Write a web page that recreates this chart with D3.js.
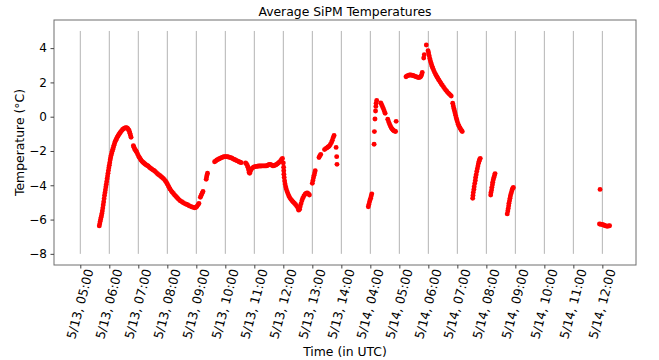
<!DOCTYPE html>
<html>
<head>
<meta charset="utf-8">
<script src="https://cdn.jsdelivr.net/npm/d3@7"></script>
<style>
  body { margin: 0; background: white; }
  svg text { font-family: "DejaVu Sans", sans-serif; fill: #000; }
</style>
</head>
<body>
<svg id="chart" width="659" height="360"></svg>
<script>

// *** Data ***

// hour slots on the (compressed) time axis, one tick each
var tickLabels = ["5/13, 05:00", "5/13, 06:00", "5/13, 07:00", "5/13, 08:00", "5/13, 09:00",
    "5/13, 10:00", "5/13, 11:00", "5/13, 12:00", "5/13, 13:00", "5/13, 14:00",
    "5/14, 04:00", "5/14, 05:00", "5/14, 06:00", "5/14, 07:00", "5/14, 08:00",
    "5/14, 09:00", "5/14, 10:00", "5/14, 11:00", "5/14, 12:00"];

var yTicks = [-8, -6, -4, -2, 0, 2, 4];

// [slot position, average SiPM temperature in °C]
var readings13 = [
    [0.655,-6.37],[0.67,-6.25],[0.685,-6.12],[0.70,-6.0],[0.715,-5.88],[0.73,-5.78],[0.745,-5.65],[0.76,-5.5],
    [0.775,-5.33],[0.79,-5.15],[0.805,-4.97],[0.82,-4.78],[0.835,-4.6],[0.85,-4.43],[0.865,-4.27],[0.88,-4.1],
    [0.895,-3.95],[0.91,-3.79],[0.925,-3.62],[0.94,-3.46],[0.955,-3.3],[0.97,-3.14],[0.985,-2.98],[1.0,-2.83],
    [1.015,-2.68],[1.03,-2.53],[1.045,-2.39],[1.06,-2.27],[1.08,-2.14],[1.10,-2.02],[1.12,-1.9],[1.14,-1.79],
    [1.16,-1.67],[1.18,-1.56],[1.2,-1.46],[1.225,-1.37],[1.25,-1.28],[1.275,-1.2],[1.30,-1.12],[1.325,-1.05],
    [1.35,-0.99],[1.375,-0.93],[1.40,-0.87],[1.43,-0.81],[1.46,-0.75],[1.49,-0.71],[1.52,-0.67],[1.55,-0.65],
    [1.58,-0.64],[1.61,-0.66],[1.64,-0.7],[1.67,-0.78],[1.69,-0.85],[1.71,-0.96],[1.73,-1.08],[1.75,-1.2],
    [1.83,-1.69],[1.85,-1.78],[1.87,-1.87],[1.9,-1.95],[1.92,-2.0],[1.94,-2.06],[1.97,-2.16],[2.0,-2.27],
    [2.03,-2.36],[2.06,-2.44],[2.09,-2.52],[2.12,-2.59],[2.15,-2.64],[2.18,-2.68],[2.21,-2.73],[2.24,-2.77],
    [2.27,-2.81],[2.30,-2.84],[2.34,-2.88],[2.38,-2.95],[2.42,-3.0],[2.46,-3.05],[2.5,-3.1],[2.54,-3.14],
    [2.58,-3.19],[2.62,-3.26],[2.66,-3.33],[2.70,-3.38],[2.74,-3.43],[2.78,-3.49],[2.82,-3.54],[2.86,-3.6],
    [2.90,-3.67],[2.94,-3.76],[2.97,-3.84],[3.0,-3.92],[3.03,-4.02],[3.06,-4.12],[3.09,-4.22],[3.13,-4.31],
    [3.17,-4.4],[3.21,-4.48],[3.25,-4.56],[3.29,-4.64],[3.33,-4.71],[3.37,-4.78],[3.41,-4.85],[3.45,-4.91],
    [3.5,-4.96],[3.55,-5.02],[3.6,-5.07],[3.65,-5.11],[3.7,-5.14],[3.75,-5.19],[3.8,-5.23],[3.85,-5.26],
    [3.9,-5.29],[3.94,-5.31],[3.98,-5.3],[4.02,-5.24],[4.06,-5.14],[4.09,-5.06],
    [4.14,-4.7],[4.17,-4.58],[4.2,-4.46],[4.23,-4.36],
    [4.34,-3.65],[4.355,-3.52],[4.37,-3.4],[4.385,-3.3],
    [4.63,-2.63],[4.67,-2.58],[4.71,-2.53],[4.75,-2.49],[4.79,-2.45],[4.83,-2.42],[4.87,-2.39],[4.91,-2.36],
    [4.95,-2.34],[4.99,-2.33],[5.03,-2.33],[5.07,-2.34],[5.11,-2.35],[5.15,-2.37],[5.19,-2.39],[5.23,-2.42],
    [5.27,-2.46],[5.31,-2.5],[5.35,-2.53],[5.39,-2.56],[5.43,-2.59],[5.47,-2.63],[5.51,-2.66],[5.55,-2.68],
    [5.7,-2.7],[5.73,-2.76],[5.76,-2.84],[5.78,-2.95],[5.8,-3.1],[5.82,-3.25],[5.84,-3.3],[5.86,-3.2],
    [5.88,-3.1],[5.91,-3.03],[5.95,-2.97],[5.99,-2.93],[6.03,-2.91],[6.07,-2.9],[6.11,-2.89],[6.15,-2.88],
    [6.19,-2.88],[6.23,-2.88],[6.27,-2.87],[6.31,-2.87],[6.35,-2.87],[6.39,-2.87],[6.43,-2.86],[6.47,-2.83],
    [6.51,-2.79],[6.55,-2.78],[6.59,-2.82],[6.63,-2.86],[6.67,-2.86],[6.71,-2.83],[6.75,-2.8],[6.79,-2.76],
    [6.83,-2.7],[6.87,-2.64],[6.91,-2.57],[6.94,-2.5],[6.97,-2.44],
    [7.0,-2.7],[7.01,-2.95],[7.015,-3.15],[7.02,-3.35],[7.03,-3.55],[7.045,-3.75],[7.06,-3.92],[7.08,-4.08],
    [7.1,-4.22],[7.13,-4.36],[7.16,-4.5],[7.19,-4.62],[7.22,-4.72],[7.26,-4.82],[7.3,-4.9],[7.34,-4.97],
    [7.38,-5.05],[7.42,-5.12],[7.46,-5.21],[7.5,-5.32],[7.53,-5.45],[7.56,-5.4],[7.58,-5.25],[7.61,-5.08],
    [7.64,-4.9],[7.67,-4.75],[7.71,-4.62],[7.75,-4.52],[7.79,-4.46],[7.83,-4.45],[7.87,-4.5],[7.9,-4.57],
    [8.0,-3.88],[8.02,-3.72],[8.04,-3.56],[8.06,-3.42],[8.08,-3.28],[8.1,-3.15],
    [8.23,-2.38],[8.26,-2.28],[8.29,-2.2],
    [8.42,-1.92],[8.46,-1.86],[8.5,-1.82],[8.54,-1.77],[8.58,-1.72],[8.62,-1.62],[8.66,-1.5],[8.69,-1.37],
    [8.72,-1.22],[8.75,-1.1],
    [8.82,-1.79],[8.84,-2.33],[8.85,-2.78]
];

var readings14 = [
    [9.93,-5.25],[9.95,-5.12],[9.97,-4.98],[9.99,-4.86],[10.01,-4.75],[10.03,-4.62],[10.05,-4.5],
    [10.13,-1.61],[10.14,-0.87],[10.16,-0.13],[10.18,0.33],[10.19,0.6],[10.2,0.78],[10.22,0.95],
    [10.36,0.8],[10.39,0.7],[10.42,0.58],[10.45,0.46],[10.48,0.33],[10.51,0.2],
    [10.6,-0.15],[10.63,-0.3],[10.66,-0.43],[10.69,-0.54],[10.72,-0.64],[10.75,-0.72],[10.78,-0.78],
    [10.81,-0.82],[10.84,-0.84],[10.87,-0.86],[10.89,-0.27],
    [11.23,2.33],[11.27,2.38],[11.31,2.41],[11.35,2.43],[11.39,2.43],[11.43,2.42],[11.47,2.4],[11.51,2.38],
    [11.55,2.35],[11.59,2.32],[11.63,2.3],[11.67,2.29],[11.71,2.3],[11.74,2.35],[11.77,2.45],[11.79,2.58],
    [11.84,3.42],[11.86,3.62],[11.93,4.18],
    [11.99,3.85],[12.01,3.72],[12.03,3.55],[12.05,3.4],[12.07,3.27],[12.09,3.14],[12.11,3.03],[12.13,2.93],
    [12.15,2.84],[12.18,2.72],[12.21,2.6],[12.24,2.5],[12.27,2.41],[12.3,2.32],[12.33,2.23],[12.36,2.14],
    [12.4,2.04],[12.44,1.94],[12.48,1.84],[12.52,1.74],[12.56,1.64],[12.6,1.55],[12.64,1.47],[12.68,1.39],
    [12.72,1.32],[12.76,1.26],[12.79,1.2],
    [12.84,0.78],[12.86,0.62],[12.88,0.48],[12.9,0.35],[12.92,0.22],[12.94,0.08],[12.96,-0.06],[12.98,-0.18],
    [13.0,-0.3],[13.03,-0.44],[13.06,-0.56],[13.09,-0.66],[13.12,-0.75],[13.15,-0.82],[13.17,-0.87],
    [13.53,-4.76],[13.54,-4.6],[13.55,-4.42],[13.57,-4.25],[13.58,-4.08],[13.6,-3.9],[13.62,-3.72],[13.63,-3.55],
    [13.65,-3.38],[13.67,-3.2],[13.69,-3.03],[13.71,-2.87],[13.73,-2.72],[13.75,-2.6],[13.77,-2.5],[13.79,-2.43],
    [14.15,-4.57],[14.16,-4.42],[14.18,-4.27],[14.19,-4.12],[14.21,-3.97],[14.22,-3.82],[14.24,-3.68],
    [14.26,-3.55],[14.28,-3.43],[14.3,-3.32],
    [14.72,-5.67],[14.74,-5.5],[14.755,-5.35],[14.77,-5.2],[14.78,-5.05],[14.8,-4.9],[14.815,-4.76],
    [14.83,-4.62],[14.85,-4.5],[14.87,-4.38],[14.89,-4.26],[14.91,-4.18],[14.93,-4.13],
    [17.92,-4.24],
    [17.9,-6.26],[17.94,-6.27],[17.98,-6.28],[18.02,-6.3],[18.06,-6.33],[18.1,-6.36],[18.14,-6.38],
    [18.18,-6.39],[18.22,-6.37],[18.25,-6.36]
];

// vertical hour lines span this range
var hourLineRange = [-8, 5];

// *** Chart ***

var chart = d3.select("#chart");

var margin = {top: 20, right: 23, bottom: 95, left: 54},
    width = 659 - margin.left - margin.right,
    height = 360 - margin.top - margin.bottom;

var x = d3.scaleLinear().domain([-0.907, 19.16]).range([0, width]);
var y = d3.scaleLinear().domain([-8.65, 5.64]).range([height, 0]);

var g = chart.append("g")
    .attr("transform", "translate(" + margin.left + "," + margin.top + ")");

// hour lines
g.selectAll(".hour-line")
    .data(tickLabels).enter().append("line")
    .attr("class", "hour-line")
    .attr("x1", (d, i) => x(i)).attr("x2", (d, i) => x(i))
    .attr("y1", y(hourLineRange[0])).attr("y2", y(hourLineRange[1]))
    .attr("stroke", "#b4b4b4")
    .attr("stroke-width", 1);

// readings
g.selectAll(".dot")
    .data(readings13.concat(readings14)).enter().append("circle")
    .attr("class", "dot")
    .attr("cx", d => x(d[0]))
    .attr("cy", d => y(d[1]))
    .attr("r", 2.45)
    .attr("fill", "#ff0000");

// frame
g.append("rect")
    .attr("width", width).attr("height", height)
    .attr("fill", "none")
    .attr("stroke", "#6e6e6e")
    .attr("stroke-width", 1);

// y axis
var yAxis = d3.axisLeft(y)
    .tickValues(yTicks)
    .tickSize(3.5)
    .tickPadding(3.5)
    .tickFormat(d => d3.format("")(d).replace("-", "\u2212"));

var yAxisG = g.append("g").call(yAxis);
yAxisG.select(".domain").remove();
yAxisG.selectAll("line").attr("stroke", "#444");
yAxisG.selectAll("text")
    .attr("font-size", "12px")
    .style("font-family", "DejaVu Sans");

// x axis (rotated labels, centred on their tick like matplotlib)
var xAxis = d3.axisBottom(x)
    .tickValues(d3.range(tickLabels.length))
    .tickSize(3.5)
    .tickFormat(i => tickLabels[i]);

var xAxisG = g.append("g")
    .attr("transform", "translate(0," + height + ")")
    .call(xAxis);
xAxisG.select(".domain").remove();
xAxisG.selectAll("line").attr("stroke", "#444");

var xFont = 12.5, rot = 75 * Math.PI / 180;
xAxisG.selectAll("text")
    .attr("font-size", xFont + "px")
    .style("font-family", "DejaVu Sans")
    .attr("text-anchor", "middle")
    .attr("dy", null)
    .attr("dominant-baseline", "central")
    .each(function () {
        var len = this.getComputedTextLength();
        var h = len * Math.sin(rot) + xFont * Math.cos(rot);
        d3.select(this)
            .attr("y", 0)
            .attr("transform", "translate(-0.8," + (2.5 + h / 2) + ") rotate(-75)");
    });

// title and axis labels
chart.append("text")
    .attr("x", margin.left + width / 2)
    .attr("y", 16)
    .attr("text-anchor", "middle")
    .attr("font-size", "12.4px")
    .text("Average SiPM Temperatures");

chart.append("text")
    .attr("x", margin.left + width / 2)
    .attr("y", 356)
    .attr("text-anchor", "middle")
    .attr("font-size", "12.4px")
    .text("Time (in UTC)");

chart.append("text")
    .attr("transform", "translate(24," + (margin.top + height / 2) + ") rotate(-90)")
    .attr("text-anchor", "middle")
    .attr("font-size", "12.4px")
    .text("Temperature (°C)");

</script>
</body>
</html>
